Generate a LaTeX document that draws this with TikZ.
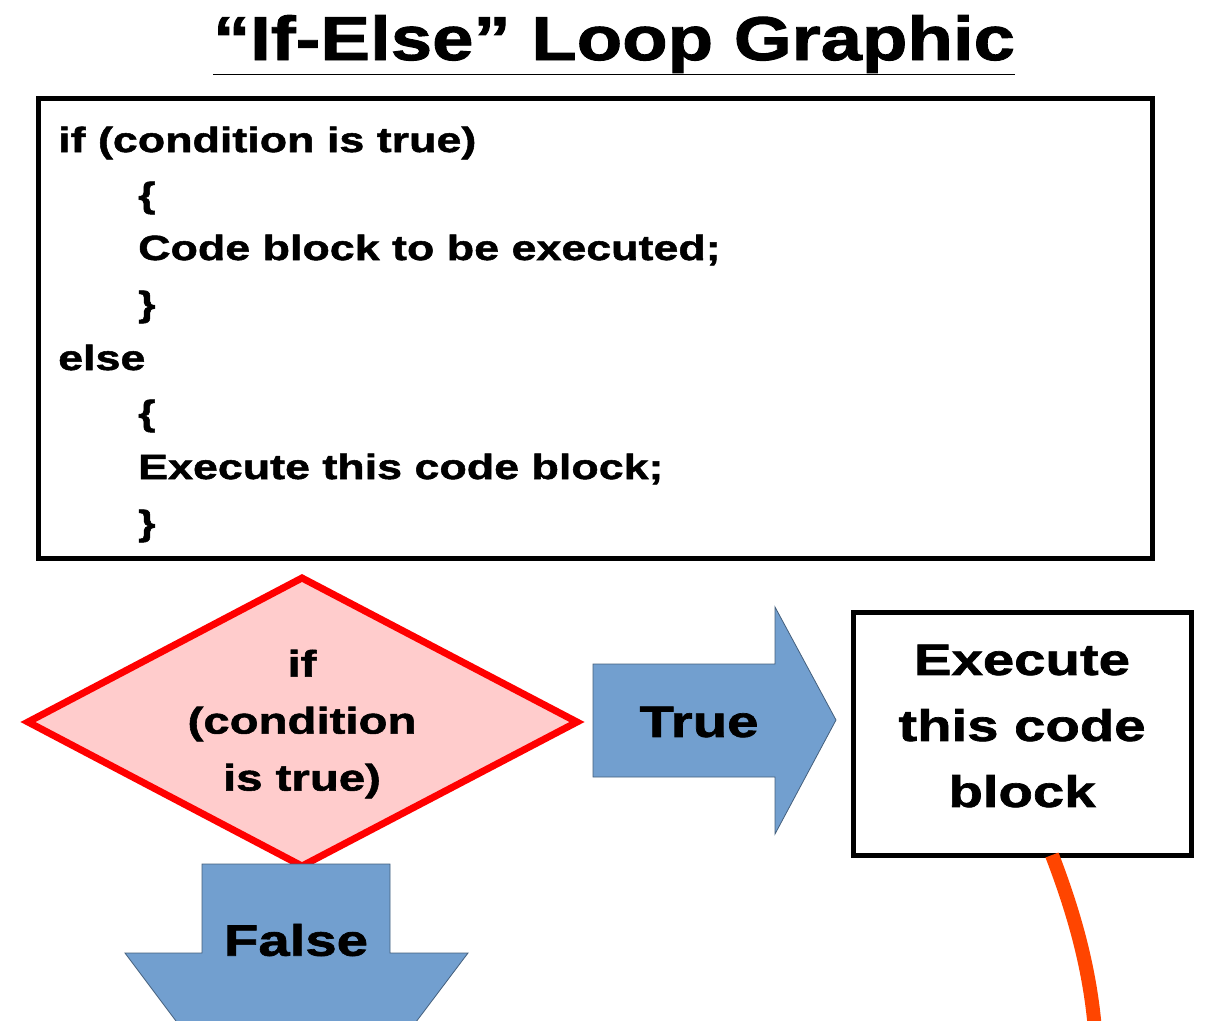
\documentclass[tikz,border=0pt]{standalone}
\usepackage{fontspec}
\setmainfont{Liberation Sans}
\newfontfamily\heavy[FakeStretch=1.28,FakeBold=1.5]{Liberation Sans Bold}
\newfontfamily\heavyt[FakeStretch=1.2,FakeBold=1.5]{Liberation Sans Bold}
\begin{document}
\begin{tikzpicture}[x=1pt,y=-1pt,
  code/.style={anchor=base west,font=\fontsize{35}{40}\selectfont\heavy,inner sep=0}]
\useasboundingbox (0,0) rectangle (1223,1020);
\clip (0,0) rectangle (1223,1020);
\definecolor{ab}{HTML}{729FCF}
\definecolor{pk}{HTML}{FFCCCC}
\node[font=\fontsize{62}{70}\selectfont\heavyt] (title) at (614,45) {\underline{“If-Else” Loop Graphic}};
\draw[line width=5pt] (38,98) rectangle (1152,558);
\node[code] (c1) at (58,152) {if (condition is true)};
\node[code] (c2) at (138,207) {\{};
\node[code] (c3) at (138,260) {Code block to be executed;};
\node[code] (c4) at (138,316) {\}};
\node[code] (c5) at (58,370) {else};
\node[code] (c6) at (138,425) {\{};
\node[code] (c7) at (138,479) {Execute this code block;};
\node[code] (c8) at (138,535) {\}};
\draw[red,fill=pk,line width=7pt,line join=miter] (302,578) -- (577,722) -- (302,866) -- (28,722) -- cycle;
\node[font=\fontsize{37}{57}\selectfont\heavy,align=center] (cond) at (302,724) {if\\(condition\\is true)};
\draw[fill=ab,draw=ab!60!black,line width=0.8pt] (593,664) -- (775,664) -- (775,607) -- (836,720) -- (775,834) -- (775,777) -- (593,777) -- cycle;
\node[font=\fontsize{44}{50}\selectfont\heavy] (true) at (699,722) {True};
\draw[line width=5pt] (853,612) rectangle (1191,855);
\node[font=\fontsize{44}{66}\selectfont\heavy,align=center] (exec) at (1022,726) {Execute\\this code\\block};
\draw[fill=ab,draw=ab!60!black,line width=0.8pt] (202,864) -- (390,864) -- (390,953) -- (468,953) -- (296,1181) -- (125,953) -- (202,953) -- cycle;
\node[font=\fontsize{44}{50}\selectfont\heavy] (false) at (296,940) {False};
\coordinate (o1) at (1052,855);
\coordinate (o2) at (1095,1030);
\draw[color={rgb,255:red,255;green,69;blue,0},line width=14pt] (o1) .. controls (1075,915) and (1090,970) .. (o2);
\end{tikzpicture}
\end{document}
